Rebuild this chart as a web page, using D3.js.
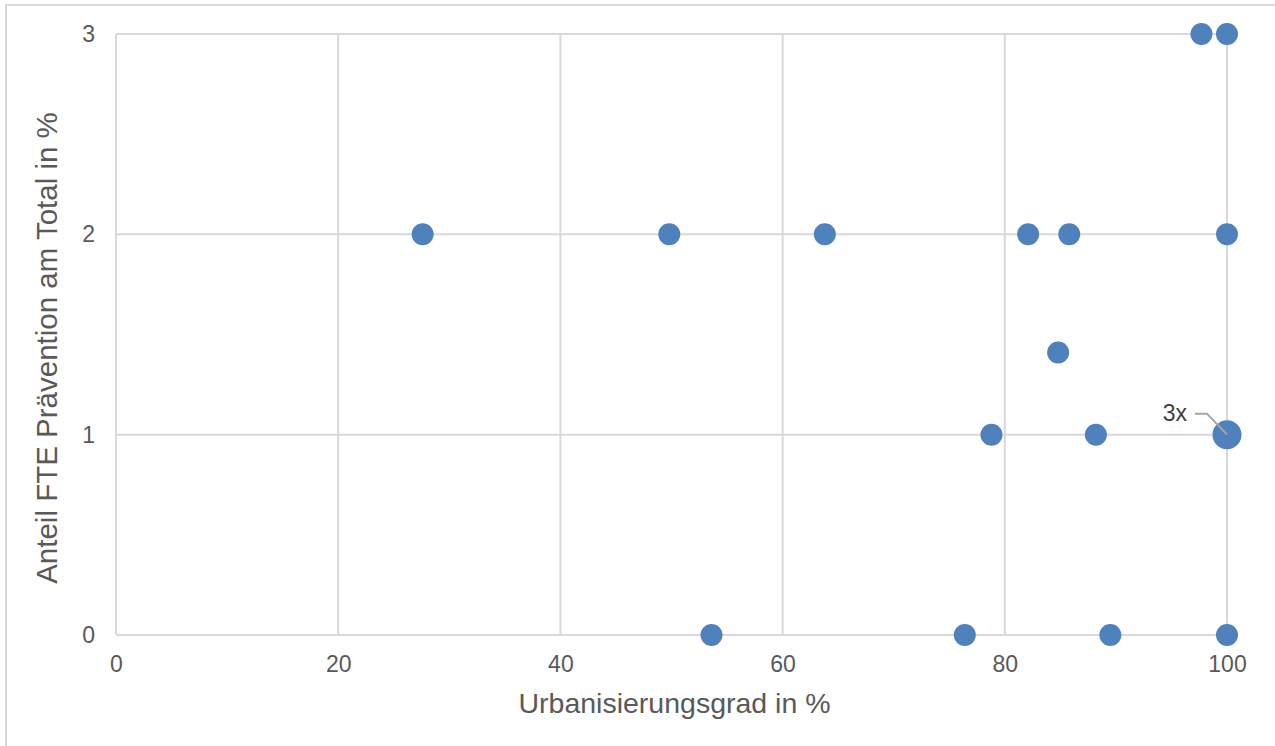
<!DOCTYPE html>
<html>
<head>
<meta charset="utf-8">
<script src="https://cdn.jsdelivr.net/npm/d3@7"></script>
<style>
  html, body { margin: 0; padding: 0; background: #fff; }
  svg { display: block; font-family: "Liberation Sans", Arial, sans-serif; }
</style>
</head>
<body>
<svg id="chart" width="1275" height="746"></svg>
<script>
// Data
const urbanisierung = [27.6, 49.8, 63.8, 82.1, 85.8, 100, 97.7, 100, 84.8, 78.8, 88.2, 100, 53.6, 76.4, 89.5, 100];
const anteilFTE     = [2,    2,    2,    2,    2,    2,   3,    3,   1.41, 1,    1,    1,   0,    0,    0,    0];
const anzahl        = [1,    1,    1,    1,    1,    1,   1,    1,   1,    1,    1,    3,   1,    1,    1,    1];
const xTicks = [0, 20, 40, 60, 80, 100];
const yTicks = [0, 1, 2, 3];
const xTitle = "Urbanisierungsgrad in %";
const yTitle = "Anteil FTE Prävention am Total in %";
const annotationText = "3x";

const svg = d3.select("#chart");
const W = 1275, H = 746;
const m = { left: 116, top: 34, right: 1227, bottom: 635 };

// outer frame
svg.append("rect").attr("x", 6).attr("y", 5).attr("width", W + 20).attr("height", H + 20)
  .attr("fill", "#fff").attr("stroke", "#d9d9d9").attr("stroke-width", 2);

const x = d3.scaleLinear().domain([0, 100]).range([m.left, m.right]);
const y = d3.scaleLinear().domain([0, 3]).range([m.bottom, m.top]);

// gridlines
const grid = svg.append("g");
grid.selectAll(".vx").data(xTicks).join("line")
  .attr("x1", d => x(d)).attr("x2", d => x(d))
  .attr("y1", m.top).attr("y2", m.bottom)
  .attr("stroke", "#d9d9d9").attr("stroke-width", 2);
grid.selectAll(".hy").data(yTicks).join("line")
  .attr("x1", m.left).attr("x2", m.right)
  .attr("y1", d => y(d)).attr("y2", d => y(d))
  .attr("stroke", "#d9d9d9").attr("stroke-width", 2);

// axes (labels only)
const xAxis = svg.append("g").attr("transform", `translate(0,${m.bottom})`)
  .call(d3.axisBottom(x).tickValues(xTicks).tickSize(0).tickPadding(20));
const yAxis = svg.append("g").attr("transform", `translate(${m.left},0)`)
  .call(d3.axisLeft(y).tickValues(yTicks).tickSize(0).tickPadding(21).tickFormat(d3.format("d")));
[xAxis, yAxis].forEach(a => {
  a.select(".domain").remove();
  a.selectAll("text").attr("fill", "#595959").style("font-size", "23px")
    .style("font-family", "'Liberation Sans', Arial, sans-serif");
});
xAxis.selectAll("text").attr("dy", "0.65em").attr("y", 22);

// points
const pts = urbanisierung.map((u, i) => ({ u, v: anteilFTE[i], n: anzahl[i] }));
svg.append("g").selectAll("circle").data(pts).join("circle")
  .attr("cx", d => x(d.u)).attr("cy", d => y(d.v))
  .attr("r", d => d.n > 1 ? 14.5 : 11)
  .attr("fill", "#4f81bd");

// annotation for 3x point
const big = pts.find(d => d.n > 1);
const bx = x(big.u), by = y(big.v);
svg.append("path")
  .attr("d", `M${bx - 32},${by - 21} L${bx - 20},${by - 21} L${bx},${by}`)
  .attr("fill", "none").attr("stroke", "#a6a6a6").attr("stroke-width", 2);
svg.append("text").attr("x", bx - 40).attr("y", by - 20)
  .attr("text-anchor", "end").attr("dominant-baseline", "middle")
  .attr("fill", "#404040").style("font-size", "23px").text(annotationText);

// titles
svg.append("text").attr("x", (m.left + m.right) / 2 + 3).attr("y", 713)
  .attr("text-anchor", "middle").attr("fill", "#595959").style("font-size", "28.5px").text(xTitle);
svg.append("text").attr("transform", `translate(57,348) rotate(-90)`)
  .attr("text-anchor", "middle").attr("fill", "#595959").style("font-size", "29.5px").text(yTitle);
</script>
</body>
</html>
